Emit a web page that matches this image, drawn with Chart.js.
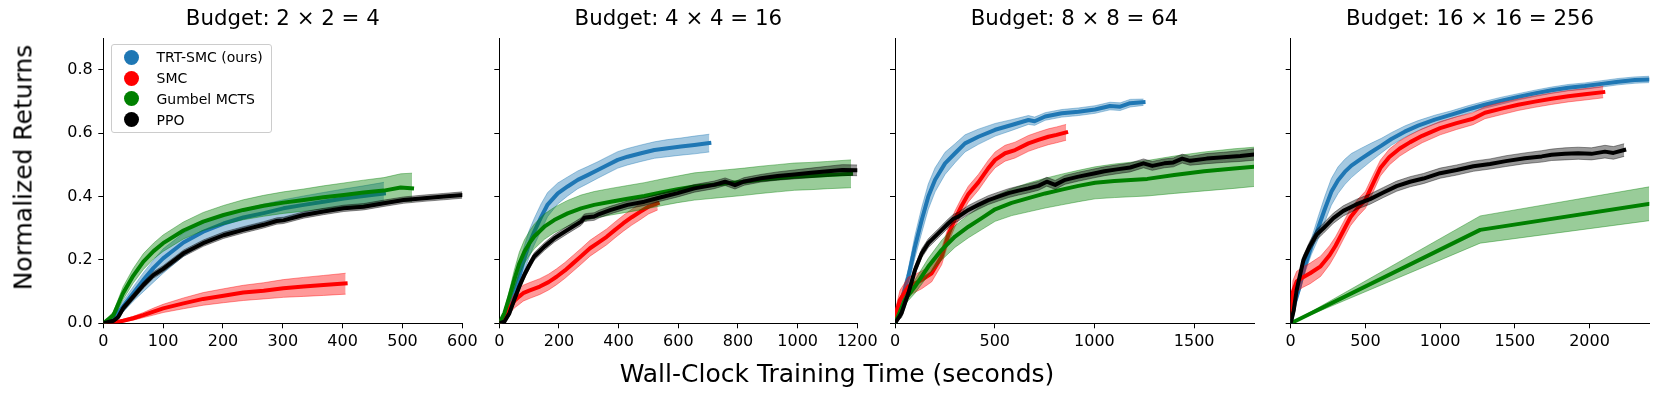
<!DOCTYPE html>
<html>
<head>
<meta charset="utf-8">
<script src="https://cdn.jsdelivr.net/npm/chart.js@4.4.1/dist/chart.umd.min.js"></script>
<style>
  body { margin: 0; background: #fff; }
  #fig { position: relative; width: 1660px; height: 398px; font-family: 'DejaVu Sans', sans-serif; color: #000; overflow: hidden; }
  #fig canvas { position: absolute; top: 0; }
  .legend { position: absolute; left: 110.5px; top: 44px; width: 161px; height: 89px; box-sizing: border-box;
            border: 1px solid #cccccc; border-radius: 3px; background: rgba(255,255,255,0.8); }
  .dot { position: absolute; width: 15px; height: 15px; border-radius: 50%; }
  .lab { position: absolute; font-size: 14px; line-height: 14px; white-space: nowrap; }
  #xlabel { position: absolute; left: 437px; top: 360.5px; width: 800px; text-align: center; font-size: 25px; line-height: 25px; }
  #ylabel { position: absolute; left: -127px; top: 155px; width: 300px; height: 25px; text-align: center;
            font-size: 25px; line-height: 25px; transform: rotate(-90deg); }
</style>
</head>
<body>
<div id="fig">
  <canvas id="c1" width="490" height="398" style="left:0px"></canvas>
  <canvas id="c2" width="450" height="398" style="left:440px"></canvas>
  <canvas id="c3" width="450" height="398" style="left:835px"></canvas>
  <canvas id="c4" width="430" height="398" style="left:1230px"></canvas>
  <div class="legend"></div>
  <div id="xlabel">Wall-Clock Training Time (seconds)</div>
  <div id="ylabel">Normalized Returns</div>
</div>
<script>
// ---- Budget 2x2 = 4 ----
const p1TrtTime = [0,17,33,50,67,84,100,134,167,201,234,268,301,335,368,402,435,469];
const p1TrtMean = [0,0.016,0.053,0.095,0.137,0.175,0.205,0.255,0.289,0.315,0.334,0.348,0.363,0.374,0.384,0.394,0.402,0.41];
const p1TrtLow  = [0,0.008,0.035,0.07,0.1,0.13,0.158,0.212,0.252,0.282,0.302,0.318,0.333,0.344,0.354,0.364,0.372,0.38];
const p1TrtHigh = [0,0.024,0.07,0.115,0.16,0.2,0.235,0.285,0.318,0.342,0.36,0.376,0.39,0.402,0.413,0.424,0.434,0.445];

const p1SmcTime = [0,17,33,50,67,84,100,134,167,201,234,268,301,335,368,405];
const p1SmcMean = [0,0.002,0.008,0.016,0.026,0.037,0.047,0.063,0.077,0.087,0.097,0.103,0.111,0.116,0.121,0.126];
const p1SmcLow  = [0,0,0.004,0.01,0.018,0.026,0.034,0.046,0.057,0.065,0.072,0.077,0.082,0.085,0.088,0.092];
const p1SmcHigh = [0,0.004,0.012,0.022,0.034,0.048,0.06,0.08,0.097,0.109,0.12,0.128,0.138,0.145,0.151,0.158];

const p1GumTime = [0,17,33,50,67,84,100,134,167,201,234,268,301,335,368,402,435,469,497,516];
const p1GumMean = [0,0.026,0.095,0.15,0.195,0.228,0.253,0.293,0.321,0.342,0.358,0.371,0.381,0.389,0.398,0.405,0.413,0.419,0.429,0.426];
const p1GumLow  = [0,0.015,0.075,0.127,0.17,0.203,0.227,0.266,0.293,0.312,0.327,0.338,0.347,0.354,0.361,0.367,0.373,0.378,0.386,0.385];
const p1GumHigh = [0,0.037,0.115,0.173,0.22,0.253,0.279,0.32,0.35,0.372,0.39,0.404,0.415,0.424,0.434,0.443,0.452,0.46,0.472,0.474];

const p1PpoTime = [0,17,25,33,50,67,84,100,134,167,201,234,268,290,301,335,368,402,435,469,502,536,569,600];
const p1PpoMean = [0,0.008,0.02,0.047,0.084,0.121,0.153,0.172,0.221,0.253,0.278,0.295,0.311,0.323,0.325,0.342,0.353,0.363,0.368,0.379,0.389,0.395,0.4,0.405];
const p1PpoLow  = [0,0.003,0.012,0.037,0.074,0.111,0.143,0.162,0.211,0.243,0.268,0.285,0.301,0.313,0.315,0.332,0.343,0.353,0.358,0.369,0.379,0.385,0.39,0.395];
const p1PpoHigh = [0,0.013,0.028,0.057,0.094,0.131,0.163,0.182,0.231,0.263,0.288,0.305,0.321,0.333,0.335,0.352,0.363,0.373,0.378,0.389,0.399,0.405,0.41,0.415];

// ---- Budget 4x4 = 16 ----
const p2TrtTime = [0,17,34,50,67,84,101,117,140,162,196,229,263,296,330,363,397,430,475,520,564,609,654,704];
const p2TrtMean = [0,0.011,0.042,0.095,0.147,0.205,0.253,0.289,0.335,0.375,0.41,0.432,0.453,0.468,0.484,0.5,0.516,0.526,0.537,0.547,0.553,0.558,0.563,0.569];
const p2TrtLow  = [0,0.006,0.027,0.07,0.112,0.165,0.211,0.247,0.293,0.337,0.377,0.402,0.425,0.441,0.458,0.474,0.49,0.5,0.511,0.521,0.526,0.531,0.535,0.541];
const p2TrtHigh = [0,0.016,0.057,0.12,0.182,0.245,0.295,0.331,0.377,0.413,0.443,0.462,0.481,0.495,0.51,0.526,0.542,0.552,0.563,0.573,0.58,0.585,0.591,0.597];

const p2SmcTime = [0,17,34,50,67,80,100,136,165,192,220,248,276,304,332,360,388,416,444,472,500,531];
const p2SmcMean = [0,0.016,0.047,0.07,0.085,0.095,0.103,0.116,0.13,0.147,0.167,0.19,0.213,0.237,0.255,0.273,0.295,0.316,0.335,0.352,0.368,0.379];
const p2SmcLow  = [0,0.008,0.03,0.048,0.06,0.07,0.078,0.091,0.105,0.122,0.142,0.165,0.188,0.212,0.23,0.248,0.27,0.291,0.31,0.327,0.345,0.358];
const p2SmcHigh = [0,0.024,0.064,0.092,0.11,0.12,0.128,0.141,0.155,0.172,0.192,0.215,0.238,0.262,0.28,0.298,0.32,0.341,0.36,0.377,0.392,0.4];

const p2GumTime = [0,17,34,50,67,84,101,117,151,184,229,274,318,374,430,486,542,598,654,709,765,821,877,933,989,1045,1101,1179];
const p2GumMean = [0,0.032,0.084,0.137,0.189,0.226,0.253,0.274,0.305,0.326,0.347,0.363,0.374,0.384,0.393,0.402,0.413,0.423,0.432,0.437,0.442,0.447,0.453,0.458,0.463,0.465,0.468,0.472];
const p2GumLow  = [0,0.022,0.064,0.107,0.154,0.189,0.215,0.235,0.265,0.286,0.306,0.321,0.332,0.342,0.351,0.36,0.371,0.381,0.389,0.394,0.399,0.404,0.41,0.415,0.42,0.422,0.425,0.428];
const p2GumHigh = [0,0.042,0.104,0.167,0.224,0.263,0.291,0.313,0.345,0.366,0.388,0.405,0.416,0.426,0.435,0.444,0.455,0.465,0.475,0.48,0.485,0.49,0.496,0.501,0.506,0.508,0.511,0.516];

const p2PpoTime = [0,17,34,50,67,84,101,117,151,184,229,274,285,296,318,335,374,430,486,542,598,654,720,757,790,821,877,933,989,1045,1101,1150,1200];
const p2PpoMean = [0,0.005,0.032,0.074,0.116,0.153,0.184,0.211,0.242,0.268,0.295,0.321,0.333,0.335,0.337,0.345,0.358,0.374,0.384,0.398,0.411,0.426,0.437,0.447,0.436,0.448,0.458,0.465,0.47,0.475,0.48,0.484,0.483];
const p2PpoLow  = [0,0.001,0.022,0.062,0.104,0.141,0.172,0.199,0.23,0.256,0.283,0.309,0.321,0.323,0.325,0.333,0.346,0.362,0.372,0.386,0.399,0.414,0.425,0.435,0.424,0.436,0.446,0.452,0.456,0.46,0.464,0.467,0.466];
const p2PpoHigh = [0,0.009,0.042,0.086,0.128,0.165,0.196,0.223,0.254,0.28,0.307,0.333,0.345,0.347,0.349,0.357,0.37,0.386,0.396,0.41,0.423,0.438,0.449,0.459,0.448,0.46,0.47,0.478,0.484,0.49,0.496,0.501,0.5];

// ---- Budget 8x8 = 64 ----
const p3TrtTime = [0,33,67,100,134,167,201,251,301,351,418,502,585,669,700,753,836,920,1003,1078,1129,1179,1246];
const p3TrtMean = [0,0.074,0.147,0.242,0.326,0.4,0.453,0.505,0.537,0.568,0.589,0.611,0.626,0.642,0.638,0.653,0.663,0.668,0.675,0.686,0.684,0.695,0.698];
const p3TrtLow  = [0,0.059,0.122,0.207,0.286,0.36,0.415,0.47,0.507,0.541,0.565,0.591,0.609,0.628,0.625,0.641,0.651,0.656,0.663,0.674,0.672,0.683,0.688];
const p3TrtHigh = [0,0.089,0.172,0.277,0.366,0.44,0.491,0.54,0.567,0.595,0.613,0.631,0.643,0.656,0.651,0.665,0.675,0.68,0.687,0.698,0.696,0.707,0.708];

const p3SmcTime = [0,25,67,100,134,184,234,268,301,335,368,418,468,502,552,602,669,719,769,810,858];
const p3SmcMean = [0.02,0.074,0.116,0.126,0.137,0.158,0.211,0.28,0.33,0.372,0.408,0.445,0.49,0.516,0.537,0.547,0.568,0.579,0.589,0.595,0.603];
const p3SmcLow  = [0,0.044,0.086,0.098,0.109,0.131,0.185,0.255,0.305,0.347,0.383,0.42,0.465,0.491,0.512,0.522,0.543,0.554,0.564,0.57,0.578];
const p3SmcHigh = [0.04,0.104,0.146,0.154,0.165,0.185,0.237,0.305,0.355,0.397,0.433,0.47,0.515,0.541,0.562,0.572,0.593,0.604,0.614,0.62,0.628];

const p3GumTime = [0,50,100,167,234,301,368,435,502,585,669,753,836,920,1003,1100,1265,1400,1550,1700,1800];
const p3GumMean = [0,0.074,0.116,0.179,0.232,0.274,0.305,0.332,0.36,0.38,0.395,0.41,0.422,0.434,0.444,0.449,0.456,0.468,0.48,0.489,0.494];
const p3GumLow  = [0,0.06,0.095,0.152,0.2,0.24,0.27,0.296,0.322,0.34,0.352,0.364,0.374,0.384,0.393,0.397,0.402,0.41,0.418,0.426,0.432];
const p3GumHigh = [0,0.088,0.137,0.205,0.262,0.308,0.342,0.372,0.402,0.425,0.443,0.458,0.471,0.483,0.494,0.503,0.514,0.528,0.541,0.551,0.556];

const p3PpoTime = [0,33,67,100,134,167,217,268,293,318,368,418,468,518,569,619,669,719,761,803,853,920,1003,1050,1112,1179,1246,1290,1350,1396,1440,1480,1563,1647,1731,1800];
const p3PpoMean = [0,0.032,0.095,0.168,0.221,0.253,0.284,0.316,0.33,0.337,0.358,0.374,0.389,0.4,0.411,0.419,0.426,0.434,0.447,0.437,0.453,0.463,0.474,0.48,0.486,0.492,0.505,0.497,0.505,0.508,0.52,0.513,0.52,0.524,0.528,0.533];
const p3PpoLow  = [0,0.018,0.081,0.154,0.207,0.239,0.27,0.302,0.316,0.323,0.344,0.36,0.375,0.386,0.397,0.405,0.412,0.42,0.433,0.423,0.439,0.449,0.46,0.466,0.472,0.478,0.491,0.483,0.491,0.494,0.506,0.499,0.504,0.508,0.511,0.515];
const p3PpoHigh = [0,0.046,0.109,0.182,0.235,0.267,0.298,0.33,0.344,0.351,0.372,0.388,0.403,0.414,0.425,0.433,0.44,0.448,0.461,0.451,0.467,0.477,0.488,0.494,0.5,0.506,0.519,0.511,0.519,0.522,0.534,0.527,0.536,0.54,0.545,0.551];

// ---- Budget 16x16 = 256 ----
const p4TrtTime = [0,27,60,94,138,183,228,272,317,362,406,473,540,607,674,763,853,964,1076,1187,1299,1411,1522,1634,1746,1857,1969,2081,2192,2304,2400];
const p4TrtMean = [0,0.063,0.116,0.179,0.242,0.3,0.36,0.415,0.452,0.478,0.498,0.52,0.541,0.561,0.582,0.605,0.624,0.643,0.659,0.675,0.69,0.703,0.715,0.726,0.736,0.744,0.749,0.756,0.763,0.768,0.77];
const p4TrtLow  = [0,0.053,0.101,0.159,0.217,0.265,0.32,0.373,0.41,0.438,0.46,0.487,0.513,0.538,0.562,0.587,0.608,0.629,0.647,0.663,0.679,0.692,0.705,0.716,0.726,0.734,0.739,0.746,0.753,0.758,0.76];
const p4TrtHigh = [0,0.073,0.131,0.199,0.267,0.335,0.4,0.457,0.494,0.518,0.536,0.553,0.569,0.584,0.602,0.623,0.64,0.657,0.671,0.687,0.701,0.714,0.725,0.736,0.746,0.754,0.759,0.766,0.773,0.778,0.78];

const p4SmcTime = [0,15,40,80,130,200,260,300,350,400,450,500,550,600,660,730,800,880,1000,1110,1220,1300,1411,1522,1634,1746,1857,1969,2092];
const p4SmcMean = [0.02,0.1,0.132,0.145,0.158,0.18,0.215,0.245,0.29,0.335,0.365,0.39,0.44,0.49,0.525,0.552,0.572,0.592,0.616,0.632,0.646,0.665,0.678,0.69,0.7,0.709,0.717,0.723,0.73];
const p4SmcLow  = [0,0.065,0.1,0.113,0.125,0.148,0.185,0.217,0.263,0.308,0.338,0.363,0.413,0.465,0.5,0.528,0.549,0.57,0.595,0.612,0.627,0.646,0.659,0.672,0.682,0.691,0.699,0.705,0.712];
const p4SmcHigh = [0.04,0.135,0.164,0.177,0.19,0.212,0.245,0.273,0.317,0.362,0.392,0.417,0.467,0.515,0.55,0.576,0.595,0.614,0.637,0.652,0.665,0.684,0.697,0.708,0.718,0.727,0.735,0.741,0.748];

const p4GumTime = [0,1268,2400];
const p4GumMean = [0,0.295,0.377];
const p4GumLow  = [0,0.253,0.324];
const p4GumHigh = [0,0.339,0.431];

const p4PpoTime = [0,20,40,85,129,174,219,286,352,442,531,620,709,799,888,1000,1111,1223,1334,1440,1567,1680,1746,1835,1924,2013,2103,2160,2232];
const p4PpoMean = [0,0.04,0.105,0.2,0.245,0.28,0.3,0.332,0.355,0.376,0.392,0.413,0.433,0.447,0.457,0.474,0.484,0.496,0.503,0.512,0.521,0.527,0.532,0.535,0.537,0.535,0.542,0.538,0.547];
const p4PpoLow  = [0,0.03,0.093,0.186,0.23,0.264,0.284,0.316,0.339,0.36,0.376,0.397,0.417,0.431,0.441,0.458,0.468,0.48,0.487,0.495,0.504,0.509,0.514,0.516,0.518,0.516,0.522,0.518,0.527];
const p4PpoHigh = [0,0.05,0.117,0.214,0.26,0.296,0.316,0.348,0.371,0.392,0.408,0.429,0.449,0.463,0.473,0.49,0.5,0.512,0.519,0.529,0.538,0.545,0.55,0.554,0.556,0.554,0.562,0.558,0.567];

// axis ticks / titles
const yTicks = [0, 0.2, 0.4, 0.6, 0.8];
const p1XTicks = [0, 100, 200, 300, 400, 500, 600];
const p2XTicks = [0, 200, 400, 600, 800, 1000, 1200];
const p3XTicks = [0, 500, 1000, 1500];
const p4XTicks = [0, 500, 1000, 1500, 2000];
const xMaxes = [600, 1200, 1800, 2400];
const titles = ['Budget: 2 × 2 = 4', 'Budget: 4 × 4 = 16', 'Budget: 8 × 8 = 64', 'Budget: 16 × 16 = 256'];
const legendNames = ['TRT-SMC (ours)', 'SMC', 'Gumbel MCTS', 'PPO'];

/**
 * Method styles (rank: higher = drawn further back)
 */
const methods = {
    trt: { color: '#1f77b4', band: 'rgba(31, 119, 180, 0.4)', rank: 4 },
    smc: { color: '#ff0000', band: 'rgba(255, 0, 0, 0.4)', rank: 3 },
    gum: { color: '#008000', band: 'rgba(0, 128, 0, 0.4)', rank: 2 },
    ppo: { color: '#000000', band: 'rgba(0, 0, 0, 0.4)', rank: 1 }
};

// canvas layout: y axis width and right padding so the plot areas line up
const panels = [
    { id: 'c1', yAxisW: 103.3, padRight: 27.7, showY: true, xTicks: p1XTicks,
      series: [['trt', p1TrtTime, p1TrtMean, p1TrtLow, p1TrtHigh], ['smc', p1SmcTime, p1SmcMean, p1SmcLow, p1SmcHigh],
               ['gum', p1GumTime, p1GumMean, p1GumLow, p1GumHigh], ['ppo', p1PpoTime, p1PpoMean, p1PpoLow, p1PpoHigh]] },
    { id: 'c2', yAxisW: 59.3, padRight: 32.7, showY: false, xTicks: p2XTicks,
      series: [['trt', p2TrtTime, p2TrtMean, p2TrtLow, p2TrtHigh], ['smc', p2SmcTime, p2SmcMean, p2SmcLow, p2SmcHigh],
               ['gum', p2GumTime, p2GumMean, p2GumLow, p2GumHigh], ['ppo', p2PpoTime, p2PpoMean, p2PpoLow, p2PpoHigh]] },
    { id: 'c3', yAxisW: 60, padRight: 31, showY: false, xTicks: p3XTicks,
      series: [['trt', p3TrtTime, p3TrtMean, p3TrtLow, p3TrtHigh], ['smc', p3SmcTime, p3SmcMean, p3SmcLow, p3SmcHigh],
               ['gum', p3GumTime, p3GumMean, p3GumLow, p3GumHigh], ['ppo', p3PpoTime, p3PpoMean, p3PpoLow, p3PpoHigh]] },
    { id: 'c4', yAxisW: 60.7, padRight: 10.7, showY: false, xTicks: p4XTicks,
      series: [['trt', p4TrtTime, p4TrtMean, p4TrtLow, p4TrtHigh], ['smc', p4SmcTime, p4SmcMean, p4SmcLow, p4SmcHigh],
               ['gum', p4GumTime, p4GumMean, p4GumLow, p4GumHigh], ['ppo', p4PpoTime, p4PpoMean, p4PpoLow, p4PpoHigh]] }
];

Chart.defaults.font.family = "'DejaVu Sans', sans-serif";
Chart.defaults.color = '#000';

function pts(t, v) {
    return t.map((x, i) => ({ x: x, y: v[i] }));
}

function buildDatasets(series) {
    const out = [];
    series.forEach(([key, t, mean, low, high]) => {
        const m = methods[key];
        // shaded band: upper edge filled down to the lower edge
        out.push({ data: pts(t, high), borderColor: m.band, backgroundColor: m.band, borderWidth: 1,
                   fill: '+1', order: m.rank * 10 + 5 });
        out.push({ data: pts(t, low), borderColor: m.band, borderWidth: 1, fill: false, order: m.rank * 10 + 5 });
        out.push({ data: pts(t, mean), borderColor: m.color, borderWidth: 4, fill: false,
                   borderCapStyle: 'square', order: m.rank * 10 });
    });
    return out;
}

panels.forEach((p, i) => {
    const ctx = document.getElementById(p.id);
    new Chart(ctx, {
        type: 'line',
        data: { datasets: buildDatasets(p.series) },
        options: {
            responsive: false,
            animation: false,
            devicePixelRatio: 1,
            layout: { padding: { left: 0, right: p.padRight, top: 0, bottom: 0 } },
            elements: {
                point: { radius: 0, hoverRadius: 0 },
                line: { tension: 0, borderJoinStyle: 'round', borderCapStyle: 'butt' }
            },
            plugins: {
                legend: { display: false },
                tooltip: { enabled: false },
                title: {
                    display: true,
                    text: titles[i],
                    fullSize: false,
                    color: '#000',
                    font: { size: 21.3, weight: 'normal' },
                    padding: { top: 7, bottom: 5.7 }
                }
            },
            scales: {
                x: {
                    type: 'linear',
                    min: 0,
                    max: xMaxes[i],
                    afterBuildTicks: function(scale) { scale.ticks = p.xTicks.map(v => ({ value: v })); },
                    ticks: {
                        autoSkip: false,
                        maxRotation: 0,
                        padding: 4,
                        color: '#000',
                        font: { size: 16 },
                        callback: function(value) { return String(value); }
                    },
                    grid: { drawOnChartArea: false, drawTicks: true, tickLength: 5, tickColor: '#000', tickWidth: 1 },
                    border: { display: true, color: '#000', width: 1 },
                    afterFit: function(scale) { scale.height = 74.7; }
                },
                y: {
                    min: 0,
                    max: 0.9,
                    afterBuildTicks: function(scale) { scale.ticks = yTicks.map(v => ({ value: v })); },
                    ticks: {
                        display: p.showY,
                        padding: 5.5,
                        color: '#000',
                        font: { size: 16 },
                        callback: function(value) { return value.toFixed(1); }
                    },
                    grid: { drawOnChartArea: false, drawTicks: true, tickLength: 5, tickColor: '#000', tickWidth: 1 },
                    border: { display: true, color: '#000', width: 1 },
                    afterFit: function(scale) { scale.width = p.yAxisW; }
                }
            }
        }
    });
});

// legend inside the first panel
const fig = document.getElementById('fig');
const legendKeys = ['trt', 'smc', 'gum', 'ppo'];
legendKeys.forEach((key, i) => {
    const cy = 57.3 + i * 20.7;
    const dot = document.createElement('div');
    dot.className = 'dot';
    dot.style.background = methods[key].color;
    dot.style.left = '123.5px';
    dot.style.top = (cy - 7.5) + 'px';
    fig.appendChild(dot);
    const lab = document.createElement('div');
    lab.className = 'lab';
    lab.textContent = legendNames[i];
    lab.style.left = '156.5px';
    lab.style.top = (cy + 5 - 11.85) + 'px';
    fig.appendChild(lab);
});
</script>
</body>
</html>
